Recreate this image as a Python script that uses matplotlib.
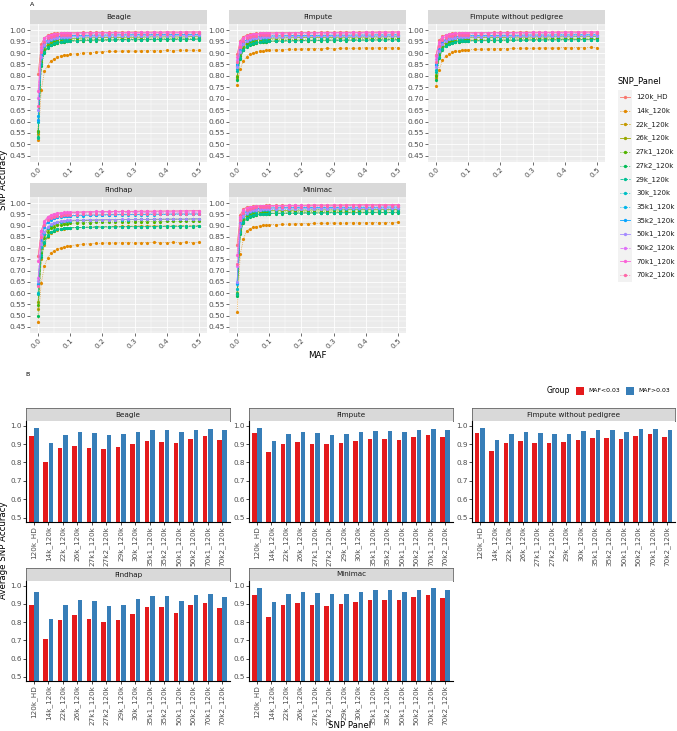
import numpy as np
import matplotlib.pyplot as plt
from matplotlib.lines import Line2D
from matplotlib.patches import Rectangle

W, H = 677, 731

panels = ['120k_HD', '14k_120k', '22k_120k', '26k_120k', '27k1_120k', '27k2_120k', '29k_120k',
          '30k_120k', '35k1_120k', '35k2_120k', '50k1_120k', '50k2_120k', '70k1_120k', '70k2_120k']
colors = ['#F8766D', '#E38900', '#C49A00', '#99A800', '#53B400', '#00BC56', '#00C094',
          '#00BFC4', '#00B6EB', '#06A4FF', '#A58AFF', '#DF70F8', '#FB61D7', '#FF66A8']
styles = ['-', ':', '--', '-', ':', ':', '--', ':', ':', '-', '-', '--', '-', ':']

methods = ['Beagle', 'Fimpute', 'Fimpute without pedigree', 'Findhap', 'Minimac']

# MAF bins (x axis of panel A)
maf = [0.00, 0.01, 0.02, 0.03, 0.04, 0.05, 0.06, 0.07, 0.08, 0.09, 0.10,
       0.12, 0.14, 0.16, 0.18, 0.20, 0.22, 0.24, 0.26, 0.28, 0.30,
       0.32, 0.34, 0.36, 0.38, 0.40, 0.42, 0.44, 0.46, 0.48, 0.50]

# SNP accuracy x1000 per panel
beagle_acc = [
    [808, 940, 968, 978, 983, 986, 987, 988, 989, 989, 990,
     990, 991, 991, 991, 992, 991, 992, 992, 992, 993, 992, 992, 993, 992, 993, 993, 992, 993, 993, 993],
    [518, 737, 820, 845, 866, 875, 882, 887, 891, 893, 895,
     898, 900, 902, 904, 906, 907, 908, 909, 910, 908, 910, 911, 910, 911, 912, 911, 912, 913, 912, 912],
    [545, 850, 905, 925, 935, 941, 945, 948, 950, 952, 953,
     954, 955, 956, 957, 957, 958, 958, 959, 959, 960, 959, 960, 960, 961, 960, 961, 961, 960, 961, 962],
    [555, 870, 920, 940, 950, 955, 958, 960, 962, 963, 964,
     965, 966, 967, 967, 968, 968, 969, 969, 970, 969, 970, 970, 971, 970, 971, 971, 970, 971, 972, 971],
    [560, 862, 912, 932, 942, 948, 951, 953, 955, 956, 957,
     958, 959, 960, 960, 961, 961, 962, 962, 962, 963, 962, 963, 963, 964, 963, 964, 964, 963, 964, 965],
    [530, 845, 900, 922, 934, 940, 944, 947, 949, 951, 952,
     953, 954, 955, 955, 956, 956, 957, 957, 958, 957, 958, 958, 959, 958, 959, 959, 958, 959, 960, 959],
    [528, 850, 905, 926, 937, 943, 947, 950, 952, 953, 954,
     955, 956, 957, 957, 958, 958, 958, 959, 959, 960, 959, 960, 960, 960, 961, 960, 961, 961, 960, 961],
    [600, 880, 930, 948, 956, 961, 964, 966, 967, 968, 969,
     970, 970, 971, 971, 972, 972, 972, 973, 973, 973, 974, 973, 974, 974, 974, 975, 974, 975, 975, 975],
    [625, 895, 945, 960, 967, 971, 973, 975, 976, 977, 977,
     978, 978, 979, 979, 979, 980, 980, 980, 980, 981, 981, 980, 981, 981, 981, 982, 981, 982, 982, 982],
    [605, 893, 943, 959, 966, 970, 973, 974, 975, 976, 977,
     977, 978, 978, 979, 979, 979, 980, 980, 980, 980, 981, 980, 981, 981, 981, 981, 982, 981, 982, 982],
    [650, 885, 935, 952, 960, 965, 967, 969, 970, 971, 972,
     973, 973, 974, 974, 975, 975, 975, 976, 976, 976, 976, 977, 976, 977, 977, 977, 978, 977, 978, 978],
    [705, 915, 958, 971, 977, 980, 981, 982, 983, 984, 984,
     985, 985, 986, 986, 986, 986, 987, 987, 987, 987, 988, 987, 988, 988, 988, 988, 989, 988, 989, 989],
    [735, 928, 965, 976, 981, 984, 985, 986, 987, 987, 988,
     988, 989, 989, 989, 990, 990, 990, 990, 991, 990, 991, 991, 991, 991, 992, 991, 992, 992, 992, 992],
    [670, 905, 950, 965, 972, 976, 978, 979, 980, 981, 981,
     982, 982, 983, 983, 983, 984, 984, 984, 984, 985, 985, 984, 985, 985, 985, 986, 985, 986, 986, 986],
]

fimpute_acc = [
    [895, 955, 972, 979, 983, 985, 986, 987, 988, 988, 989,
     989, 990, 990, 990, 991, 991, 991, 991, 992, 991, 992, 992, 992, 992, 993, 992, 993, 993, 993, 993],
    [760, 830, 866, 885, 895, 900, 905, 908, 910, 912, 913,
     914, 915, 916, 917, 918, 919, 920, 919, 921, 920, 921, 922, 921, 922, 923, 922, 923, 924, 923, 924],
    [785, 880, 915, 930, 938, 942, 945, 947, 949, 950, 951,
     952, 953, 953, 954, 955, 955, 955, 956, 956, 957, 956, 957, 957, 958, 957, 958, 958, 958, 959, 958],
    [800, 895, 930, 945, 953, 957, 960, 962, 963, 964, 965,
     966, 966, 967, 967, 968, 968, 968, 969, 969, 969, 970, 969, 970, 970, 970, 971, 970, 971, 971, 971],
    [795, 888, 922, 938, 946, 950, 953, 955, 956, 957, 958,
     959, 959, 960, 960, 961, 961, 961, 962, 962, 962, 963, 962, 963, 963, 963, 964, 963, 964, 964, 964],
    [780, 875, 912, 928, 937, 942, 945, 947, 949, 950, 951,
     952, 952, 953, 953, 954, 954, 954, 955, 955, 955, 956, 955, 956, 956, 956, 957, 956, 957, 957, 957],
    [820, 880, 915, 931, 940, 944, 947, 949, 951, 952, 953,
     954, 954, 955, 955, 955, 956, 956, 956, 957, 957, 957, 957, 958, 957, 958, 958, 958, 958, 959, 958],
    [830, 905, 938, 951, 958, 962, 964, 966, 967, 968, 969,
     970, 970, 970, 971, 971, 971, 972, 972, 972, 972, 973, 972, 973, 973, 973, 973, 974, 973, 974, 974],
    [850, 918, 948, 960, 966, 970, 972, 973, 974, 975, 976,
     976, 977, 977, 977, 978, 978, 978, 978, 979, 979, 979, 979, 979, 980, 979, 980, 980, 980, 980, 981],
    [845, 916, 946, 959, 965, 969, 971, 972, 973, 974, 975,
     975, 976, 976, 977, 977, 977, 978, 978, 978, 978, 979, 978, 979, 979, 979, 979, 980, 979, 980, 980],
    [840, 905, 938, 952, 960, 964, 966, 968, 969, 970, 970,
     971, 971, 972, 972, 972, 973, 973, 973, 973, 974, 974, 974, 974, 975, 974, 975, 975, 975, 975, 976],
    [870, 935, 960, 971, 977, 979, 981, 982, 983, 983, 984,
     984, 985, 985, 985, 986, 986, 986, 986, 987, 987, 987, 987, 987, 988, 987, 988, 988, 988, 988, 989],
    [885, 948, 968, 977, 981, 983, 985, 986, 986, 987, 987,
     988, 988, 988, 989, 989, 989, 989, 990, 990, 990, 990, 990, 991, 990, 991, 991, 991, 991, 991, 992],
    [860, 928, 955, 966, 972, 975, 977, 978, 979, 980, 980,
     981, 981, 982, 982, 982, 982, 983, 983, 983, 983, 984, 983, 984, 984, 984, 984, 985, 984, 985, 985],
]

fimpute_noped_acc = [
    [893, 956, 973, 980, 984, 986, 987, 988, 988, 989, 989,
     990, 990, 990, 991, 991, 991, 991, 992, 992, 992, 992, 992, 992, 993, 993, 993, 993, 993, 993, 993],
    [755, 828, 868, 888, 898, 903, 907, 910, 912, 914, 915,
     916, 917, 918, 919, 920, 920, 921, 921, 922, 921, 922, 923, 922, 923, 924, 923, 924, 924, 925, 924],
    [790, 884, 919, 934, 941, 945, 948, 950, 952, 953, 954,
     955, 955, 956, 956, 957, 957, 957, 958, 958, 958, 959, 958, 959, 959, 959, 960, 959, 960, 960, 960],
    [805, 898, 933, 947, 955, 959, 962, 964, 965, 966, 967,
     967, 968, 968, 969, 969, 969, 970, 970, 970, 970, 971, 970, 971, 971, 971, 971, 972, 971, 972, 972],
    [800, 890, 925, 940, 948, 952, 955, 957, 958, 959, 960,
     960, 961, 961, 962, 962, 962, 963, 963, 963, 963, 964, 963, 964, 964, 964, 964, 965, 964, 965, 965],
    [780, 878, 915, 931, 940, 944, 947, 949, 951, 952, 953,
     953, 954, 954, 955, 955, 955, 956, 956, 956, 957, 956, 957, 957, 957, 958, 957, 958, 958, 958, 958],
    [815, 882, 917, 933, 942, 946, 949, 951, 952, 953, 954,
     955, 955, 956, 956, 956, 957, 957, 957, 957, 958, 958, 958, 958, 958, 959, 958, 959, 959, 959, 959],
    [828, 907, 940, 953, 960, 963, 966, 967, 968, 969, 970,
     971, 971, 971, 972, 972, 972, 972, 973, 973, 973, 973, 974, 973, 974, 974, 974, 974, 975, 974, 975],
    [852, 920, 950, 962, 968, 971, 973, 974, 975, 976, 977,
     977, 978, 978, 978, 979, 979, 979, 979, 980, 980, 980, 980, 980, 980, 981, 980, 981, 981, 981, 981],
    [846, 918, 948, 960, 967, 970, 972, 973, 974, 975, 976,
     976, 977, 977, 977, 978, 978, 978, 978, 979, 979, 979, 979, 979, 980, 979, 980, 980, 980, 980, 980],
    [838, 907, 940, 954, 961, 965, 967, 969, 970, 971, 971,
     972, 972, 973, 973, 973, 974, 974, 974, 974, 975, 975, 975, 975, 975, 976, 975, 976, 976, 976, 976],
    [872, 937, 962, 972, 977, 980, 982, 983, 983, 984, 985,
     985, 985, 986, 986, 986, 987, 987, 987, 987, 988, 988, 988, 988, 988, 988, 989, 988, 989, 989, 989],
    [888, 950, 970, 978, 982, 984, 986, 986, 987, 988, 988,
     988, 989, 989, 989, 990, 990, 990, 990, 990, 991, 991, 991, 991, 991, 991, 992, 991, 992, 992, 992],
    [862, 930, 957, 968, 973, 976, 978, 979, 980, 981, 981,
     982, 982, 982, 983, 983, 983, 984, 984, 984, 984, 984, 985, 984, 985, 985, 985, 985, 986, 985, 986],
]

findhap_acc = [
    [765, 878, 918, 935, 944, 949, 952, 954, 956, 957, 958,
     959, 960, 961, 961, 962, 962, 963, 963, 963, 964, 964, 964, 964, 965, 965, 965, 965, 965, 966, 966],
    [470, 645, 722, 757, 780, 787, 797, 801, 806, 808, 810,
     815, 818, 819, 821, 822, 824, 823, 824, 825, 823, 824, 825, 826, 824, 825, 826, 825, 827, 825, 826],
    [530, 752, 815, 850, 866, 875, 880, 884, 887, 889, 890,
     892, 893, 894, 895, 896, 896, 897, 897, 897, 898, 898, 898, 899, 898, 899, 899, 899, 900, 899, 900],
    [560, 800, 858, 885, 900, 908, 913, 916, 918, 920, 921,
     922, 923, 924, 925, 925, 926, 926, 927, 927, 927, 928, 928, 928, 928, 929, 929, 929, 929, 930, 930],
    [545, 780, 845, 873, 888, 896, 901, 905, 907, 909, 910,
     912, 913, 914, 915, 915, 916, 916, 917, 917, 917, 918, 918, 918, 918, 919, 919, 919, 919, 920, 920],
    [500, 760, 825, 855, 870, 878, 883, 886, 888, 889, 890,
     891, 892, 892, 893, 893, 894, 894, 894, 895, 895, 895, 895, 895, 896, 896, 896, 896, 896, 896, 897],
    [598, 770, 828, 857, 872, 880, 885, 887, 889, 890, 891,
     892, 893, 893, 894, 894, 895, 895, 895, 896, 896, 896, 896, 896, 897, 897, 897, 897, 897, 897, 898],
    [600, 805, 862, 890, 904, 911, 915, 918, 920, 921, 922,
     923, 924, 925, 925, 926, 926, 927, 927, 927, 928, 928, 928, 928, 929, 929, 929, 929, 929, 930, 930],
    [635, 835, 892, 915, 927, 933, 937, 939, 941, 942, 943,
     944, 945, 946, 946, 947, 947, 948, 948, 948, 949, 949, 949, 949, 950, 950, 950, 950, 950, 951, 951],
    [640, 838, 895, 918, 929, 935, 939, 941, 943, 944, 945,
     946, 947, 947, 948, 948, 949, 949, 950, 950, 950, 950, 951, 951, 951, 951, 952, 952, 952, 952, 952],
    [655, 818, 870, 895, 907, 914, 918, 920, 922, 923, 924,
     925, 925, 926, 926, 927, 927, 927, 928, 928, 928, 928, 928, 929, 929, 929, 929, 929, 929, 930, 930],
    [665, 860, 912, 932, 942, 947, 950, 952, 953, 954, 955,
     956, 956, 957, 957, 958, 958, 958, 958, 959, 959, 959, 959, 959, 960, 960, 960, 960, 960, 960, 960],
    [745, 875, 922, 940, 949, 954, 957, 958, 959, 960, 961,
     961, 962, 962, 963, 963, 963, 964, 964, 964, 964, 965, 965, 965, 965, 965, 965, 966, 966, 966, 966],
    [632, 850, 902, 925, 935, 940, 943, 945, 946, 947, 948,
     949, 950, 950, 951, 951, 951, 952, 952, 952, 952, 953, 953, 953, 953, 953, 953, 954, 954, 954, 954],
]

minimac_acc = [
    [815, 948, 975, 982, 985, 987, 988, 989, 989, 990, 990,
     990, 991, 991, 991, 991, 992, 992, 992, 992, 992, 992, 993, 993, 993, 993, 993, 993, 993, 993, 994],
    [514, 772, 842, 878, 886, 892, 896, 899, 901, 903, 904,
     905, 906, 907, 908, 909, 909, 910, 911, 911, 912, 911, 912, 913, 912, 913, 914, 913, 914, 914, 915],
    [590, 868, 915, 933, 942, 946, 949, 951, 952, 953, 954,
     955, 955, 956, 956, 957, 957, 957, 957, 958, 958, 958, 958, 958, 959, 959, 959, 959, 959, 959, 960],
    [598, 885, 930, 948, 956, 960, 963, 964, 965, 966, 967,
     967, 968, 968, 969, 969, 969, 970, 970, 970, 970, 970, 971, 971, 971, 971, 971, 971, 972, 972, 972],
    [600, 878, 923, 940, 949, 953, 956, 958, 959, 960, 961,
     961, 962, 962, 963, 963, 963, 964, 964, 964, 964, 964, 965, 965, 965, 965, 965, 965, 966, 966, 966],
    [585, 865, 912, 931, 940, 945, 948, 950, 951, 952, 953,
     954, 954, 955, 955, 955, 956, 956, 956, 956, 957, 957, 957, 957, 957, 957, 958, 958, 958, 958, 958],
    [595, 870, 916, 934, 943, 947, 950, 952, 953, 954, 955,
     955, 956, 956, 956, 957, 957, 957, 957, 958, 958, 958, 958, 958, 958, 959, 959, 959, 959, 959, 959],
    [620, 895, 938, 954, 961, 965, 967, 968, 969, 970, 971,
     971, 972, 972, 972, 973, 973, 973, 973, 974, 974, 974, 974, 974, 974, 975, 975, 975, 975, 975, 975],
    [640, 910, 950, 964, 970, 973, 975, 976, 977, 978, 978,
     979, 979, 979, 980, 980, 980, 980, 981, 981, 981, 981, 981, 981, 982, 982, 982, 982, 982, 982, 982],
    [645, 912, 951, 965, 971, 974, 976, 977, 978, 978, 979,
     979, 980, 980, 980, 980, 981, 981, 981, 981, 981, 982, 982, 982, 982, 982, 982, 982, 983, 983, 983],
    [650, 900, 942, 957, 964, 968, 970, 971, 972, 973, 974,
     974, 975, 975, 975, 976, 976, 976, 976, 976, 977, 977, 977, 977, 977, 977, 978, 978, 978, 978, 978],
    [720, 928, 962, 974, 979, 982, 983, 984, 985, 985, 986,
     986, 987, 987, 987, 987, 988, 988, 988, 988, 988, 988, 989, 989, 989, 989, 989, 989, 989, 990, 990],
    [770, 940, 970, 979, 983, 985, 986, 987, 988, 988, 989,
     989, 989, 990, 990, 990, 990, 991, 991, 991, 991, 991, 991, 992, 992, 992, 992, 992, 992, 992, 992],
    [730, 925, 958, 970, 976, 979, 981, 982, 983, 983, 984,
     984, 985, 985, 985, 985, 986, 986, 986, 986, 986, 987, 987, 987, 987, 987, 987, 987, 988, 988, 988],
]

# average accuracy per panel, MAF<0.03 / MAF>0.03
beagle_low = [0.945, 0.804, 0.878, 0.889, 0.878, 0.875, 0.882, 0.900, 0.915, 0.913, 0.907, 0.927, 0.942, 0.924]
beagle_high = [0.989, 0.905, 0.951, 0.965, 0.960, 0.951, 0.955, 0.967, 0.975, 0.975, 0.967, 0.978, 0.984, 0.976]
fimpute_low = [0.958, 0.858, 0.900, 0.913, 0.902, 0.898, 0.905, 0.915, 0.927, 0.929, 0.924, 0.938, 0.949, 0.938]
fimpute_high = [0.987, 0.916, 0.953, 0.965, 0.960, 0.951, 0.953, 0.967, 0.973, 0.973, 0.965, 0.978, 0.982, 0.978]
noped_low = [0.960, 0.864, 0.907, 0.916, 0.907, 0.905, 0.909, 0.922, 0.933, 0.935, 0.927, 0.944, 0.955, 0.938]
noped_high = [0.989, 0.922, 0.955, 0.967, 0.962, 0.955, 0.955, 0.969, 0.976, 0.976, 0.967, 0.980, 0.984, 0.976]
findhap_low = [0.893, 0.709, 0.813, 0.836, 0.815, 0.802, 0.813, 0.844, 0.882, 0.882, 0.851, 0.895, 0.902, 0.875]
findhap_high = [0.962, 0.818, 0.891, 0.922, 0.913, 0.889, 0.891, 0.925, 0.945, 0.945, 0.918, 0.949, 0.953, 0.935]
minimac_low = [0.947, 0.826, 0.893, 0.904, 0.895, 0.890, 0.897, 0.911, 0.920, 0.922, 0.920, 0.935, 0.946, 0.930]
minimac_high = [0.989, 0.910, 0.953, 0.966, 0.960, 0.953, 0.955, 0.967, 0.975, 0.975, 0.967, 0.978, 0.984, 0.978]

curve_sets = [beagle_acc, fimpute_acc, fimpute_noped_acc, findhap_acc, minimac_acc]
bar_sets = [(beagle_low, beagle_high), (fimpute_low, fimpute_high), (noped_low, noped_high),
            (findhap_low, findhap_high), (minimac_low, minimac_high)]

RED, BLUE = '#E41A1C', '#377EB8'
TXT = '#4D4D4D'


def box(l, t, r, b):
    # pixel box -> figure fraction
    return [l / W, 1 - b / H, (r - l) / W, (b - t) / H]


def strip(fig, l, t, r, b, label, boxed=False):
    ax = fig.add_axes(box(l, t, r, b))
    ax.set_xticks([])
    ax.set_yticks([])
    ax.set_facecolor('#D9D9D9')
    for s in ax.spines.values():
        s.set_visible(boxed)
        s.set_color('#666666')
        s.set_linewidth(0.6)
    ax.text(0.5, 0.5, label, ha='center', va='center', fontsize=5.2, color='#1A1A1A',
            transform=ax.transAxes)


fig = plt.figure(figsize=(W / 100, H / 100), dpi=100)

# ---------------- panel A ----------------
cols_a = [(30, 207), (229, 406), (428, 605)]
rows_a = [(10, 24, 162), (183, 197, 333)]
for k, name in enumerate(methods):
    l, r = cols_a[k % 3]
    st, t, b = rows_a[k // 3]
    strip(fig, l, st, r, t, name)
    ax = fig.add_axes(box(l, t, r, b))
    ax.set_facecolor('#EBEBEB')
    for s in ax.spines.values():
        s.set_visible(False)
    ax.set_xlim(-0.025, 0.525)
    ax.set_ylim(0.4225, 1.0275)
    ax.set_xticks(np.arange(0, 0.51, 0.1))
    ax.set_xticks(np.arange(0.05, 0.5, 0.1), minor=True)
    ax.set_yticks(np.arange(0.45, 1.001, 0.05))
    ax.set_yticks(np.arange(0.425, 1.03, 0.05), minor=True)
    ax.set_xticklabels(['%.1f' % v for v in np.arange(0, 0.51, 0.1)], rotation=45, ha='right',
                       va='top', rotation_mode='anchor')
    ax.set_yticklabels(['%.2f' % v for v in np.arange(0.45, 1.001, 0.05)])
    ax.grid(which='major', color='white', lw=0.6)
    ax.grid(which='minor', color='white', lw=0.3)
    ax.set_axisbelow(True)
    ax.tick_params(which='major', length=2, width=0.5, color='#333333', labelsize=5.3,
                   labelcolor=TXT, pad=0.8)
    ax.tick_params(which='minor', length=0)
    curves = curve_sets[k]
    for i, p in enumerate(panels):
        ax.plot(maf, np.array(curves[i]) / 1000, color=colors[i], ls=styles[i], lw=0.5,
                marker='o', ms=2.3, mew=0)

fig.text(4 / W, 1 - 180 / H, 'SNP Accuracy', rotation=90, ha='center', va='center', fontsize=6.3)
fig.text(317 / W, 1 - 356 / H, 'MAF', ha='center', va='center', fontsize=6.3)
fig.text(32 / W, 1 - 4 / H, 'A', ha='center', va='center', fontsize=4.5)

# legend for panel A
fig.text(618 / W, 1 - 81 / H, 'SNP_Panel', ha='left', va='center', fontsize=6)
step = 13.7
fig.add_artist(Rectangle((618 / W, 1 - (90 + 14 * step) / H), 14 / W, 14 * step / H,
                         transform=fig.transFigure, color='#F2F2F2', lw=0))
for i, p in enumerate(panels):
    yy = 1 - (97 + i * step) / H
    fig.add_artist(Line2D([620 / W, 630 / W], [yy, yy], transform=fig.transFigure,
                          color=colors[i], ls=styles[i], lw=0.6))
    fig.add_artist(Line2D([625 / W], [yy], transform=fig.transFigure, color=colors[i],
                          marker='o', ms=2.4, mew=0, ls='none'))
    fig.text(636 / W, yy, p, ha='left', va='center', fontsize=5, color='#1A1A1A')

# ---------------- panel B ----------------
cols_b = [(26, 230), (249, 453), (472, 675)]
rows_b = [(408, 421, 522), (568, 581, 681)]
x = np.arange(len(panels))
for k, name in enumerate(methods):
    l, r = cols_b[k % 3]
    st, t, b = rows_b[k // 3]
    strip(fig, l, st, r, t, name, boxed=True)
    ax = fig.add_axes(box(l, t, r, b))
    low, high = bar_sets[k]
    ax.bar(x - 0.19, low, 0.32, color=RED)
    ax.bar(x + 0.19, high, 0.32, color=BLUE)
    ax.set_xlim(-0.55, 13.55)
    ax.set_ylim(0.477, 1.025)
    ax.set_yticks([0.5, 0.6, 0.7, 0.8, 0.9, 1.0])
    ax.set_yticklabels(['0.5', '0.6', '0.7', '0.8', '0.9', '1.0'])
    ax.set_xticks(x)
    ax.set_xticklabels(panels, rotation=90)
    ax.spines['top'].set_visible(False)
    ax.spines['right'].set_visible(False)
    for s in ('left', 'bottom'):
        ax.spines[s].set_linewidth(0.8)
    ax.tick_params(length=2, width=0.5, labelsize=5.2, labelcolor=TXT, pad=1)

fig.text(4 / W, 1 - 550 / H, 'Average SNP Accuracy', rotation=90, ha='center', va='center',
         fontsize=6.2)
fig.text(350 / W, 1 - 726 / H, 'SNP Panel', ha='center', va='center', fontsize=6.2)
fig.text(28 / W, 1 - 375 / H, 'B', ha='center', va='center', fontsize=4.5)

# group legend for panel B
fig.text(547 / W, 1 - 391 / H, 'Group', ha='left', va='center', fontsize=5.5)
fig.add_artist(Rectangle((576 / W, 1 - 395 / H), 8 / W, 8 / H, transform=fig.transFigure,
                         color=RED, lw=0))
fig.text(588 / W, 1 - 391 / H, 'MAF<0.03', ha='left', va='center', fontsize=4.4)
fig.add_artist(Rectangle((626 / W, 1 - 395 / H), 8 / W, 8 / H, transform=fig.transFigure,
                         color=BLUE, lw=0))
fig.text(638 / W, 1 - 391 / H, 'MAF>0.03', ha='left', va='center', fontsize=4.4)

fig.savefig('out.png', dpi=100)
